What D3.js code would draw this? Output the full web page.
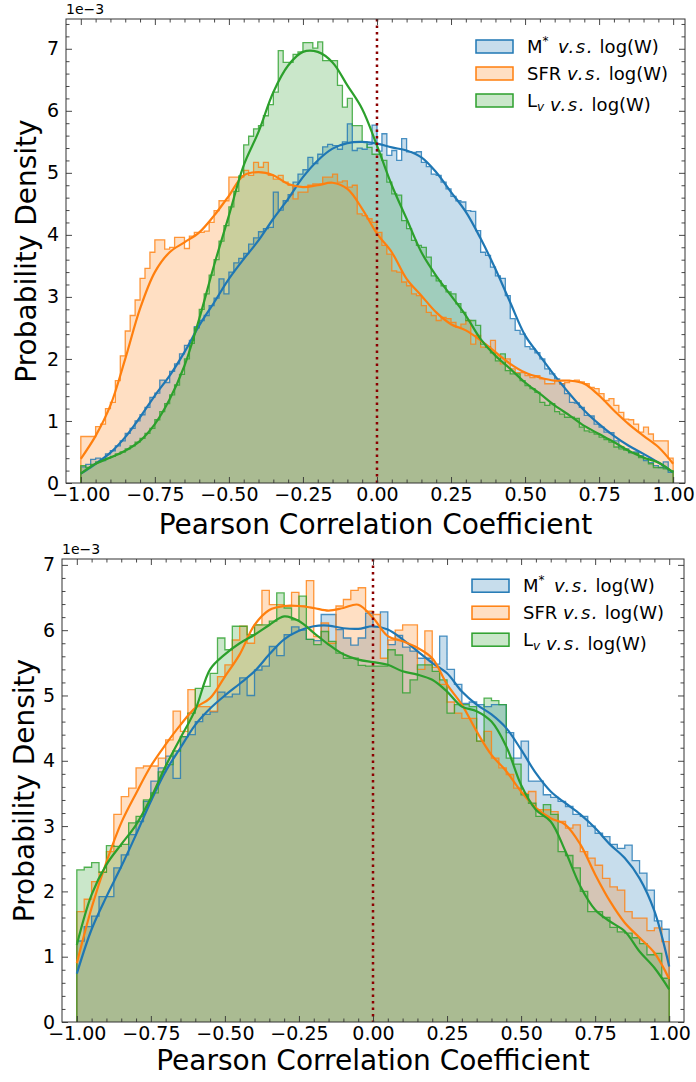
<!DOCTYPE html>
<html>
<head>
<meta charset="utf-8">
<script src="https://cdn.jsdelivr.net/npm/d3@7"></script>
<style>
  body { margin: 0; background: #fff; }
  svg text { font-family: "DejaVu Sans", sans-serif; fill: #000; }
</style>
</head>
<body>
<svg id="chart" width="696" height="1082"></svg>
<script>
// series order: M*, SFR, L_v
const colors = ["#1f77b4", "#ff7f0e", "#2ca02c"];
const xTicks = [-1, -0.75, -0.5, -0.25, 0, 0.25, 0.5, 0.75, 1];
const yTicks = [0, 1, 2, 3, 4, 5, 6, 7];

// KDE sample positions
const kdeX = [-1, -0.95, -0.9, -0.85, -0.8, -0.75, -0.7, -0.65, -0.6, -0.55, -0.5,
  -0.45, -0.4, -0.35, -0.3, -0.25, -0.2, -0.15, -0.1, -0.05, 0,
  0.05, 0.1, 0.15, 0.2, 0.25, 0.3, 0.35, 0.4, 0.45, 0.5,
  0.55, 0.6, 0.65, 0.7, 0.75, 0.8, 0.85, 0.9, 0.95, 1];

// ---- top panel (120 bins on [-1, 1]) ----
const topHistM = [
  0.26, 0.30, 0.38, 0.40, 0.36, 0.47, 0.52, 0.60, 0.68, 0.80,
  0.88, 1.00, 1.10, 1.22, 1.38, 1.45, 1.66, 1.62, 1.80, 1.92,
  2.08, 2.22, 2.30, 2.52, 2.62, 2.70, 2.86, 2.98, 3.29, 3.05,
  3.40, 3.55, 3.62, 3.70, 3.85, 3.95, 4.05, 4.10, 4.12, 4.69,
  4.40, 4.55, 4.65, 4.85, 4.98, 5.05, 5.25, 5.15, 5.30, 5.42,
  5.46, 5.44, 5.38, 5.50, 5.79, 5.36, 5.40, 5.38, 5.46, 5.77,
  5.35, 5.63, 5.28, 5.36, 5.20, 5.55, 5.34, 5.33, 5.34, 5.17,
  5.10, 4.98, 4.96, 4.85, 4.74, 4.62, 4.55, 4.53, 4.39, 4.38,
  4.07, 3.72, 3.67, 3.48, 3.34, 3.30, 3.02, 2.65, 2.46, 2.40,
  2.20, 2.16, 2.10, 2.00, 1.84, 1.76, 1.68, 1.60, 1.44, 1.30,
  1.29, 1.22, 1.09, 1.08, 0.95, 0.90, 0.82, 0.81, 0.68, 0.58,
  0.55, 0.49, 0.50, 0.44, 0.36, 0.33, 0.28, 0.25, 0.34, 0.17];
const topHistSFR = [
  0.75, 0.75, 0.75, 0.91, 0.95, 1.20, 1.30, 1.65, 2.05, 2.45,
  2.70, 2.95, 3.30, 3.46, 3.72, 3.92, 3.92, 3.77, 3.80, 3.96,
  3.96, 3.78, 3.98, 4.04, 4.04, 4.06, 4.20, 4.39, 4.55, 4.55,
  4.93, 4.93, 4.93, 5.04, 4.96, 5.17, 5.09, 5.17, 4.96, 4.90,
  4.96, 4.85, 4.80, 4.58, 4.69, 4.69, 4.80, 4.82, 4.82, 4.93,
  4.93, 4.98, 4.85, 4.87, 4.77, 4.80, 4.34, 4.31, 4.26, 4.20,
  4.04, 3.83, 3.69, 3.42, 3.40, 3.24, 3.18, 3.05, 3.02, 2.86,
  2.75, 2.70, 2.62, 2.67, 2.65, 2.59, 2.51, 2.56, 2.62, 2.24,
  2.38, 2.19, 2.19, 2.30, 2.05, 1.92, 2.00, 1.84, 1.78, 1.78,
  1.73, 1.70, 1.73, 1.68, 1.60, 1.60, 1.65, 1.60, 1.62, 1.65,
  1.66, 1.63, 1.60, 1.54, 1.52, 1.44, 1.33, 1.36, 1.25, 1.14,
  1.03, 1.02, 0.95, 0.82, 0.90, 0.79, 0.68, 0.68, 0.68, 0.40];
const topHistLv = [
  0.28, 0.25, 0.30, 0.34, 0.38, 0.40, 0.43, 0.47, 0.50, 0.55,
  0.60, 0.66, 0.72, 0.80, 0.88, 1.02, 1.15, 1.28, 1.42, 1.58,
  1.75, 2.00, 2.25, 2.50, 2.80, 3.05, 3.35, 3.60, 3.90, 4.15,
  4.45, 4.70, 4.95, 5.45, 5.59, 5.71, 5.76, 5.92, 6.10, 6.30,
  6.97, 6.78, 6.78, 6.91, 6.95, 7.10, 7.10, 7.01, 7.11, 6.81,
  6.81, 6.81, 6.41, 6.06, 6.20, 5.76, 5.76, 5.50, 5.41, 5.30,
  5.30, 5.20, 4.85, 4.66, 4.64, 4.23, 4.10, 3.91, 3.83, 3.80,
  3.64, 3.34, 3.26, 3.18, 3.08, 3.05, 2.89, 2.75, 2.62, 2.62,
  2.54, 2.24, 2.19, 2.10, 1.97, 2.08, 1.81, 1.76, 1.76, 1.65,
  1.57, 1.52, 1.46, 1.30, 1.25, 1.28, 1.15, 1.11, 1.06, 1.06,
  1.04, 0.90, 0.84, 0.82, 0.79, 0.74, 0.70, 0.66, 0.58, 0.55,
  0.53, 0.49, 0.48, 0.41, 0.39, 0.31, 0.25, 0.25, 0.23, 0.20];
const topKdeM = [0.15, 0.31, 0.49, 0.74, 1.06, 1.41, 1.73, 2.11, 2.54, 2.91, 3.29,
  3.61, 3.91, 4.26, 4.58, 4.93, 5.20, 5.39, 5.48, 5.50, 5.47,
  5.41, 5.36, 5.25, 5.01, 4.69, 4.37, 3.94, 3.45, 2.91, 2.38,
  2.05, 1.73, 1.44, 1.17, 0.95, 0.76, 0.60, 0.47, 0.33, 0.17];
const topKdeSFR = [0.39, 0.76, 1.25, 2.00, 2.81, 3.40, 3.72, 3.88, 4.04, 4.31, 4.63,
  4.96, 5.01, 4.96, 4.82, 4.77, 4.80, 4.84, 4.74, 4.42, 4.02,
  3.72, 3.29, 3.02, 2.75, 2.56, 2.46, 2.30, 2.11, 1.92, 1.78,
  1.70, 1.65, 1.65, 1.60, 1.41, 1.17, 0.95, 0.76, 0.58, 0.31];
const topKdeLv = [0.15, 0.31, 0.41, 0.52, 0.68, 0.95, 1.35, 1.89, 2.65, 3.51, 4.31,
  5.12, 5.66, 6.30, 6.73, 6.95, 6.95, 6.78, 6.41, 6.03, 5.44,
  4.80, 4.26, 3.72, 3.34, 3.02, 2.70, 2.32, 2.05, 1.84, 1.62,
  1.44, 1.25, 1.09, 0.92, 0.79, 0.66, 0.52, 0.41, 0.33, 0.17];

// ---- bottom panel (80 bins on [-1, 1]) ----
const botHistM = [
  1.24, 1.46, 1.62, 1.92, 1.92, 2.36, 2.56, 2.87, 3.07, 3.38,
  3.69, 3.89, 4.07, 3.73, 4.37, 4.40, 4.60, 4.71, 4.75, 5.05,
  4.98, 5.02, 5.27, 5.00, 5.39, 5.45, 5.75, 5.61, 5.93, 6.05,
  6.00, 5.86, 5.84, 6.24, 6.24, 6.01, 5.88, 5.77, 5.88, 6.26,
  6.05, 6.28, 5.78, 5.92, 5.74, 5.68, 5.57, 5.57, 5.48, 5.91,
  5.40, 5.17, 4.88, 4.90, 4.86, 4.83, 4.86, 4.86, 4.43, 4.04,
  4.30, 3.69, 3.69, 3.48, 3.44, 3.38, 3.30, 3.18, 3.15, 3.00,
  2.89, 2.84, 2.72, 2.66, 2.71, 2.47, 2.28, 2.02, 1.55, 1.42];
const botHistSFR = [
  1.69, 1.88, 2.15, 2.30, 2.61, 3.18, 3.45, 3.58, 3.89, 3.92,
  3.92, 4.04, 4.32, 4.76, 4.45, 5.09, 4.83, 4.83, 4.76, 5.29,
  5.47, 5.85, 6.06, 5.80, 6.08, 6.61, 6.39, 6.39, 6.37, 6.58,
  6.37, 6.76, 5.90, 6.11, 5.80, 6.37, 6.47, 6.61, 6.65, 6.29,
  6.24, 5.57, 5.85, 6.00, 6.08, 6.08, 5.40, 5.99, 5.43, 5.17,
  4.90, 4.73, 4.65, 4.65, 4.30, 4.45, 4.04, 3.89, 3.79, 3.58,
  3.50, 3.53, 3.25, 3.25, 3.22, 3.07, 2.97, 3.02, 2.61, 2.51,
  2.40, 2.20, 2.07, 2.02, 1.69, 1.59, 1.59, 1.40, 1.44, 1.23];
const botHistLv = [
  2.33, 2.37, 2.44, 2.29, 2.70, 2.69, 2.72, 3.05, 3.15, 3.40,
  3.51, 3.83, 3.94, 4.15, 4.37, 4.73, 5.11, 5.14, 5.34, 5.88,
  5.70, 6.06, 6.06, 5.93, 6.08, 6.08, 6.14, 6.57, 6.34, 6.16,
  6.52, 5.86, 5.78, 5.98, 5.83, 5.65, 5.57, 5.57, 5.46, 5.45,
  5.45, 5.45, 5.70, 5.62, 5.04, 5.24, 5.47, 5.47, 5.37, 5.24,
  4.73, 4.86, 4.86, 4.83, 4.30, 4.96, 4.92, 4.86, 4.04, 3.95,
  3.48, 3.35, 3.15, 3.33, 3.18, 2.61, 2.55, 2.36, 2.00, 1.69,
  1.69, 1.60, 1.45, 1.38, 1.36, 1.29, 1.20, 1.03, 1.05, 0.67];
const botKdeM = [0.74, 1.42, 1.92, 2.38, 2.87, 3.38, 3.84, 4.20, 4.55, 4.80, 5.00,
  5.18, 5.37, 5.63, 5.86, 5.99, 6.06, 6.07, 6.03, 6.02, 6.06,
  6.01, 5.86, 5.68, 5.50, 5.34, 5.06, 4.86, 4.71, 4.50, 4.17,
  3.81, 3.53, 3.35, 3.18, 2.97, 2.72, 2.51, 2.20, 1.70, 0.85];
const botKdeSFR = [0.90, 1.75, 2.45, 3.05, 3.50, 3.92, 4.25, 4.55, 4.81, 4.96, 5.29,
  5.63, 6.08, 6.31, 6.37, 6.37, 6.34, 6.30, 6.34, 6.39, 6.19,
  5.91, 5.83, 5.73, 5.57, 5.17, 4.86, 4.45, 4.09, 3.84, 3.53,
  3.28, 3.12, 3.02, 2.72, 2.26, 1.85, 1.52, 1.29, 1.06, 0.66];
const botKdeLv = [1.18, 1.95, 2.41, 2.72, 3.02, 3.43, 3.92, 4.35, 4.78, 5.40, 5.63,
  5.80, 5.93, 6.08, 6.21, 6.14, 5.96, 5.78, 5.63, 5.55, 5.51,
  5.47, 5.37, 5.32, 5.24, 5.06, 4.83, 4.76, 4.60, 4.22, 3.63,
  3.25, 3.07, 2.61, 2.08, 1.72, 1.54, 1.39, 1.08, 0.83, 0.50];

const svg = d3.select("#chart");
const fmtX = d3.format(".2f");

const panels = [
  { left: 66, right: 685, top: 19, bottom: 483, xDomain: [-1.05, 1.04], yMax: 7.48,
    hists: [topHistM, topHistSFR, topHistLv], kdes: [topKdeM, topKdeSFR, topKdeLv],
    xLabelY: 534, yLabelX: 36, legendX: 476, legendY: 46.5 },
  { left: 62, right: 684, top: 559, bottom: 1022, xDomain: [-1.05, 1.05], yMax: 7.09,
    hists: [botHistM, botHistSFR, botHistLv], kdes: [botKdeM, botKdeSFR, botKdeLv],
    xLabelY: 1070, yLabelX: 34, legendX: 472, legendY: 585.7 }
];

function drawPanel(p) {
  const g = svg.append("g");
  const x = d3.scaleLinear().domain(p.xDomain).range([p.left, p.right]);
  const y = d3.scaleLinear().domain([0, p.yMax]).range([p.bottom, p.top]);

  // histogram fills (step)
  p.hists.forEach((vals, s) => {
    const n = vals.length;
    const edges = d3.range(n + 1).map(i => -1 + 2 * i / n);
    const pts = vals.map((v, i) => [edges[i], v]).concat([[edges[n], vals[n - 1]]]);
    g.append("path").datum(pts)
      .attr("fill", colors[s])
      .attr("fill-opacity", 0.25)
      .attr("d", d3.area().curve(d3.curveStepAfter)
        .x(d => x(d[0])).y0(y(0)).y1(d => y(d[1])));
  });

  // histogram outlines
  p.hists.forEach((vals, s) => {
    const n = vals.length;
    const edges = d3.range(n + 1).map(i => -1 + 2 * i / n);
    const pts = [[edges[0], 0]]
      .concat(vals.map((v, i) => [edges[i], v]))
      .concat([[edges[n], vals[n - 1]], [edges[n], 0]]);
    g.append("path").datum(pts)
      .attr("fill", "none")
      .attr("stroke", colors[s])
      .attr("stroke-opacity", 0.8)
      .attr("stroke-width", 1.3)
      .attr("d", d3.line().curve(d3.curveStepAfter).x(d => x(d[0])).y(d => y(d[1])));
  });

  // kde lines
  p.kdes.forEach((vals, s) => {
    g.append("path").datum(vals)
      .attr("fill", "none")
      .attr("stroke", colors[s])
      .attr("stroke-width", 2.2)
      .attr("d", d3.line().curve(d3.curveCatmullRom)
        .x((d, i) => x(kdeX[i])).y(d => y(d)));
  });

  // zero line
  g.append("line")
    .attr("x1", x(0)).attr("x2", x(0))
    .attr("y1", p.top).attr("y2", p.bottom)
    .attr("stroke", "#8b0000")
    .attr("stroke-width", 2.5)
    .attr("stroke-dasharray", "2.5,4");

  // ticks, all inward
  const minorX = d3.range(-1, 1.001, 0.05).filter(v => Math.abs(v * 4 - Math.round(v * 4)) > 1e-6);
  const minorY = d3.range(0, p.yMax, 0.2).filter(v => Math.abs(v - Math.round(v)) > 1e-6);

  const axes = [
    [d3.axisBottom(x).tickValues(xTicks).tickFormat(fmtX).tickSize(-6).tickPadding(5), `translate(0,${p.bottom})`],
    [d3.axisBottom(x).tickValues(minorX).tickFormat("").tickSize(-3.5), `translate(0,${p.bottom})`],
    [d3.axisTop(x).tickValues(xTicks).tickFormat("").tickSize(-6), `translate(0,${p.top})`],
    [d3.axisTop(x).tickValues(minorX).tickFormat("").tickSize(-3.5), `translate(0,${p.top})`],
    [d3.axisLeft(y).tickValues(yTicks).tickFormat(d3.format("d")).tickSize(-6).tickPadding(7), `translate(${p.left},0)`],
    [d3.axisLeft(y).tickValues(minorY).tickFormat("").tickSize(-3.5), `translate(${p.left},0)`],
    [d3.axisRight(y).tickValues(yTicks).tickFormat("").tickSize(-6), `translate(${p.right},0)`],
    [d3.axisRight(y).tickValues(minorY).tickFormat("").tickSize(-3.5), `translate(${p.right},0)`]
  ];
  axes.forEach(([ax, tr]) => {
    const a = g.append("g").attr("transform", tr).call(ax);
    a.select(".domain").remove();
    a.selectAll("line").attr("stroke", "#333").attr("stroke-width", 0.9);
    a.selectAll("text").attr("font-size", 19).attr("font-family", "DejaVu Sans").attr("fill", "#000");
  });

  // spines
  g.append("rect")
    .attr("x", p.left).attr("y", p.top)
    .attr("width", p.right - p.left).attr("height", p.bottom - p.top)
    .attr("fill", "none").attr("stroke", "#333").attr("stroke-width", 1);

  // offset text
  g.append("text")
    .attr("x", p.left).attr("y", p.top - 5)
    .attr("font-size", 14)
    .text("1e\u22123");

  // axis labels
  g.append("text")
    .attr("x", (p.left + p.right) / 2).attr("y", p.xLabelY)
    .attr("text-anchor", "middle")
    .attr("font-size", 28)
    .text("Pearson Correlation Coefficient");
  g.append("text")
    .attr("transform", `translate(${p.yLabelX},${(p.top + p.bottom) / 2}) rotate(-90)`)
    .attr("text-anchor", "middle")
    .attr("font-size", 28)
    .text("Probability Density");

  // legend
  const rowGap = 27;
  colors.forEach((c, s) => {
    const cy = p.legendY + s * rowGap;
    g.append("rect")
      .attr("x", p.legendX).attr("y", cy - 6.5)
      .attr("width", 37).attr("height", 13)
      .attr("fill", c).attr("fill-opacity", 0.25)
      .attr("stroke", c).attr("stroke-width", 1.5);
    const t = g.append("text")
      .attr("x", p.legendX + 51).attr("y", cy + 6.5)
      .attr("font-size", 18);
    if (s === 0) {
      t.append("tspan").text("M");
      t.append("tspan").attr("font-size", 12).attr("dy", -8).text("*");
      t.append("tspan").attr("dy", 8).text("\u2009");
    } else if (s === 1) {
      t.append("tspan").text("SFR");
    } else {
      t.append("tspan").text("L");
      t.append("tspan").attr("font-size", 12).attr("dy", 4).attr("font-style", "italic").text("v");
      t.append("tspan").attr("dy", -4).text("");
    }
    t.append("tspan").text(" ");
    t.append("tspan").attr("font-style", "italic").attr("letter-spacing", 1.5).text("v.s.");
    t.append("tspan").text(" log(W)");
  });
}

panels.forEach(drawPanel);
</script>
</body>
</html>
